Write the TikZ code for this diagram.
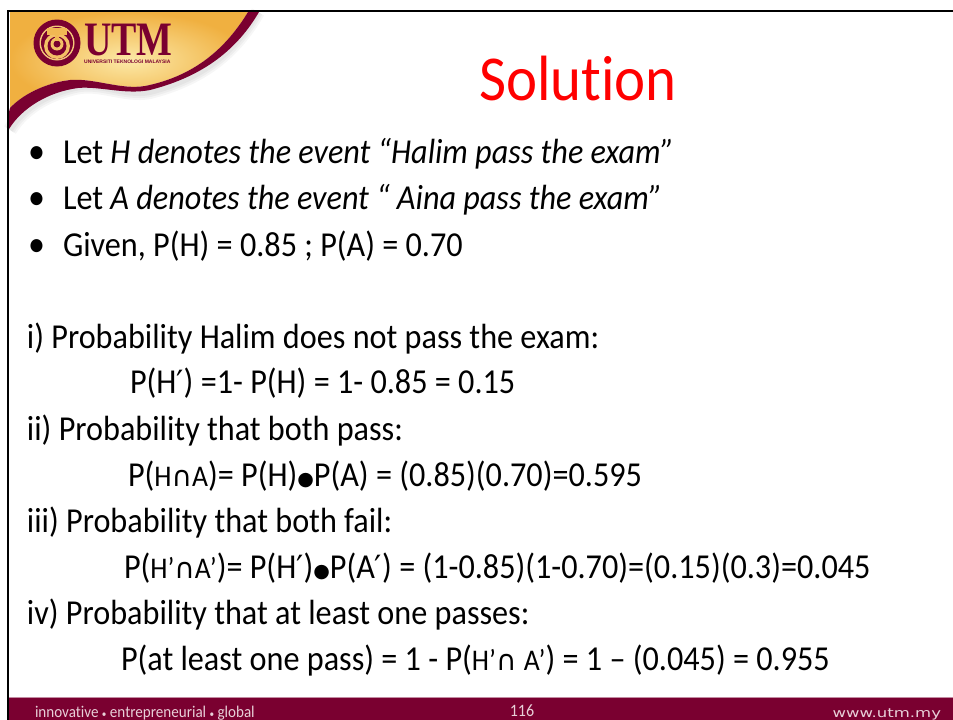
\documentclass[tikz,border=0pt]{standalone}
\usepackage{fontspec}
\setmainfont[Ligatures={TeX,CommonOff},FakeStretch=0.92]{Carlito}
\newfontfamily\serifb{Liberation Serif}
\newfontfamily\sansb{Liberation Sans}
\newfontfamily\dejavu{DejaVu Sans}
\usetikzlibrary{shadings}
\definecolor{utmred}{HTML}{7A0030}
\definecolor{goldA}{HTML}{FCE9A8}
\definecolor{goldB}{HTML}{F0B040}
\definecolor{footfg}{HTML}{E8D0D8}
\tikzset{
  x=1pt,y=-1pt,
  body/.style={anchor=base west,inner sep=0pt,outer sep=0pt,font=\fontsize{35}{35}\selectfont,text=black},
  foot/.style={anchor=base west,inner sep=0pt,outer sep=0pt,font=\fontsize{16.4}{16.4}\selectfont,text=footfg},
}
\newcommand{\bul}{{\fontsize{37}{37}\selectfont\raisebox{-0.5pt}{\symbol{"2022}}}}
\newcommand{\dotop}{\raisebox{1pt}{{\dejavu\fontsize{19}{19}\selectfont\symbol{"25CF}}}}
\newcommand{\capop}{{\dejavu\fontsize{28}{28}\selectfont\symbol{"2229}}}
\newcommand{\prm}{{\dejavu\fontsize{32}{32}\selectfont\symbol{"2032}}}
\newcommand{\sm}[1]{{\fontsize{30}{30}\selectfont #1}}
\begin{document}
\begin{tikzpicture}
\useasboundingbox (0,0) rectangle (953,720);
\fill[white] (0,0) rectangle (953,720);
% soft shadow under the swoosh
\foreach \o/\w in {7/14,5/10,3/6}{
  \draw[black,opacity=0.035,line width=\w pt] (258,12) .. controls (236,50) and (205,78) .. (150,92) .. controls (125,97) and (100,82) .. (75,88) .. controls (45,95) and (22,110) .. (10,130);
}
% gold area
\shade[inner color=goldA,outer color=goldB,shading=radial] (10,12) -- (248,12) .. controls (226,48) and (195,76) .. (145,86) .. controls (120,90) and (95,78) .. (70,80) .. controls (45,83) and (22,95) .. (10,108) -- cycle;
% maroon swoosh
\fill[utmred] (248,12) -- (259,12) .. controls (238,48) and (205,76) .. (150,90) .. controls (125,95) and (100,86) .. (78,88) .. controls (48,92) and (22,108) .. (9,129) -- (9,112) -- (10,108) .. controls (22,95) and (45,83) .. (70,80) .. controls (95,78) and (120,90) .. (145,86) .. controls (195,76) and (226,48) .. (248,12) -- cycle;
% frame
\draw[black,line width=2.2pt] (8,720) -- (8,11) -- (953,11);
% footer band
\fill[utmred] (9,697) rectangle (953,720);
\draw[utmred!45!white,line width=0.8pt] (9,697) -- (953,697);
% logo
\fill[utmred] (57,43) circle (23.5);
\fill[goldB!70!white] (57,43) circle (17.5);
\fill[utmred] (57,43) circle (16);
\fill[goldB!80!white] (57,46) circle (13);
\fill[utmred] (57,46) circle (9.5);
\fill[goldB!80!white] (57,44) circle (6.5);
\fill[utmred] (57,44) circle (3.5);
\fill[goldB!90!white] (47,28) rectangle (67,35);
\fill[goldB!90!white] (55,35) rectangle (59,41);
% UTM wordmark
\node[anchor=base west,inner sep=0pt,text=utmred,font=\serifb\bfseries\fontsize{48}{48}\selectfont] (utm) at (84,55) {\scalebox{0.79}[1]{UTM}};
\node[anchor=base west,inner sep=0pt,text=utmred,font=\sansb\bfseries\fontsize{5}{6}\selectfont] (uni) at (84,63) {UNIVERSITI TEKNOLOGI MALAYSIA};
% title
\node[anchor=base,inner sep=0pt,text=red,font=\fontsize{64}{64}\selectfont] (title) at (578,100) {Solution};
% body
\node[body] (b1) at (28,163) {\bul};
\node[body] (t1) at (63,163) {Let \textit{H denotes the event ``Halim pass the exam''}};
\node[body] (b2) at (28,209) {\bul};
\node[body] (t2) at (63,209) {Let \textit{A denotes the event `` Aina pass the exam''}};
\node[body] (b3) at (28,256) {\bul};
\node[body] (t3) at (63,256) {Given, P(H) = 0.85 ; P(A) = 0.70};
\node[body] (l1) at (27,348) {i) Probability Halim does not pass the exam:};
\node[body] (l2) at (130,393) {P(H\prm) =1- P(H) = 1- 0.85 = 0.15};
\node[body] (l3) at (27,440) {ii) Probability that both pass:};
\node[body] (l4) at (128,486) {P(\sm{H}\capop\sm{A})= P(H)\dotop P(A) = (0.85)(0.70)=0.595};
\node[body] (l5) at (27,532) {iii) Probability that both fail:};
\node[body] (l6) at (124,578) {P(\sm{H'}\capop\sm{A'})= P(H\prm)\dotop P(A\prm) = (1-0.85)(1-0.70)=(0.15)(0.3)=0.045};
\node[body] (l7) at (27,624) {iv) Probability that at least one passes:};
\node[body] (l8) at (121,670) {P(at least one pass) = 1 - P(\sm{H'}\capop\ \sm{A'}) = 1 – (0.045) = 0.955};
% footer text
\node[foot] (f1) at (35,717) {innovative {\fontsize{10}{10}\selectfont\symbol{"2022}} entrepreneurial {\fontsize{10}{10}\selectfont\symbol{"2022}} global};
\node[foot,anchor=base,font=\fontsize{17.4}{17.4}\selectfont] (f2) at (522,716) {116};
\node[foot,anchor=base east,font=\dejavu\fontsize{12.5}{14}\selectfont] (f3) at (941,717) {\scalebox{1.32}[1]{www.utm.my}};
\end{tikzpicture}
\end{document}
